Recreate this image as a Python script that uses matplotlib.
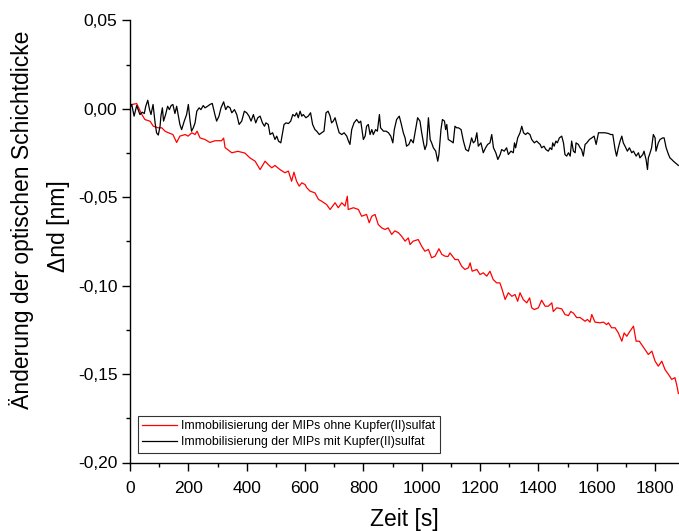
import matplotlib
matplotlib.use("Agg")
import matplotlib.pyplot as plt
from matplotlib.ticker import MultipleLocator, FuncFormatter

plt.rcParams['font.family'] = ['Liberation Sans', 'DejaVu Sans']

# Time axis [s] and layer thickness change [nm] for both immobilisation runs
t_ohne = [0, 6, 23, 40, 51, 69, 80, 97, 109, 120, 130, 147, 160, 171, 189, 199, 212, 223,
          230, 240, 257, 274, 291, 314, 321, 326, 349, 370, 394, 411, 429, 446, 463, 474,
          486, 497, 514, 531, 543, 554, 562, 571, 580, 589, 600, 606, 617, 634, 646, 657,
          674, 686, 703, 714, 726, 737, 745, 748, 766, 783, 794, 811, 820, 829, 840, 851,
          863, 874, 885, 897, 908, 920, 931, 943, 954, 960, 971, 988, 1000, 1011, 1023,
          1034, 1046, 1059, 1069, 1080, 1090, 1097, 1114, 1125, 1137, 1148, 1160, 1166,
          1173, 1189, 1200, 1211, 1223, 1234, 1245, 1257, 1268, 1274, 1286, 1297, 1309,
          1320, 1329, 1337, 1348, 1360, 1370, 1377, 1386, 1400, 1411, 1423, 1434, 1446,
          1451, 1463, 1480, 1491, 1503, 1511, 1520, 1531, 1543, 1560, 1568, 1577, 1583,
          1594, 1611, 1623, 1634, 1640, 1651, 1663, 1674, 1686, 1694, 1703, 1714, 1726,
          1735, 1746, 1754, 1765, 1777, 1789, 1800, 1811, 1823, 1834, 1846, 1857, 1868,
          1874, 1880]
d_ohne = [0.0015, 0.0025, 0.003, -0.003, -0.006, -0.007, -0.0098, -0.0107, -0.0107,
          -0.0126, -0.0134, -0.0145, -0.019, -0.0154, -0.0145, -0.0154, -0.0135, -0.0145,
          -0.0126, -0.0164, -0.0173, -0.019, -0.018, -0.018, -0.0165, -0.0219, -0.0248,
          -0.024, -0.025, -0.0277, -0.0296, -0.0343, -0.0296, -0.0315, -0.0333, -0.032,
          -0.0343, -0.0361, -0.0352, -0.0409, -0.0358, -0.0409, -0.0437, -0.0418, -0.0428,
          -0.0446, -0.0465, -0.0475, -0.0512, -0.0522, -0.0541, -0.0569, -0.0531, -0.0559,
          -0.0531, -0.055, -0.0494, -0.0569, -0.0559, -0.0569, -0.0607, -0.0597, -0.0644,
          -0.0607, -0.0597, -0.0654, -0.0673, -0.0682, -0.0673, -0.071, -0.069, -0.070,
          -0.072, -0.0748, -0.073, -0.0767, -0.0748, -0.0739, -0.0777, -0.0805, -0.0795,
          -0.0842, -0.0833, -0.0791, -0.0823, -0.0833, -0.0835, -0.0815, -0.0852, -0.0852,
          -0.089, -0.0908, -0.0899, -0.0871, -0.0918, -0.0908, -0.0937, -0.0927, -0.0946,
          -0.0918, -0.0965, -0.0984, -0.0984, -0.1012, -0.1078, -0.104, -0.106, -0.105,
          -0.1088, -0.104, -0.1078, -0.1097, -0.1069, -0.1125, -0.1135, -0.1125, -0.1082,
          -0.1116, -0.1116, -0.1097, -0.1146, -0.1125, -0.1131, -0.1163, -0.1169, -0.1146,
          -0.1155, -0.118, -0.118, -0.1201, -0.1191, -0.1206, -0.1163, -0.1206, -0.121,
          -0.1206, -0.122, -0.121, -0.1238, -0.1238, -0.1267, -0.1314, -0.1267, -0.1286,
          -0.1257, -0.1229, -0.1314, -0.1314, -0.1333, -0.136, -0.1389, -0.137, -0.1427,
          -0.1455, -0.1427, -0.1474, -0.1502, -0.153, -0.152, -0.156, -0.161]

t_mit = [0, 6, 14, 23, 34, 42, 49, 54, 61, 67, 72, 79, 86, 91, 97, 103, 106, 111, 115,
         122, 129, 135, 141, 147, 154, 160, 166, 171, 177, 186, 194, 200, 206, 211, 217,
         223, 229, 237, 243, 251, 257, 266, 274, 282, 291, 297, 305, 312, 321, 328, 335,
         343, 349, 358, 366, 374, 383, 392, 400, 408, 415, 423, 431, 438, 446, 454, 461,
         466, 474, 480, 489, 497, 503, 509, 517, 523, 528, 535, 543, 551, 558, 565, 571,
         577, 583, 589, 594, 603, 611, 619, 626, 634, 640, 649, 657, 665, 672, 679, 686,
         691, 697, 703, 709, 717, 726, 734, 743, 749, 754, 760, 768, 777, 785, 791, 800,
         806, 811, 817, 823, 829, 834, 842, 848, 855, 859, 869, 878, 886, 894, 901, 906,
         914, 923, 929, 937, 943, 948, 956, 963, 971, 979, 986, 994, 1000, 1006, 1011,
         1017, 1023, 1029, 1034, 1040, 1048, 1055, 1059, 1066, 1071, 1078, 1082, 1086,
         1091, 1100, 1108, 1114, 1120, 1126, 1135, 1143, 1151, 1160, 1166, 1171, 1177,
         1183, 1189, 1194, 1203, 1211, 1219, 1226, 1234, 1240, 1246, 1254, 1261, 1269,
         1274, 1283, 1291, 1297, 1306, 1314, 1318, 1322, 1329, 1337, 1343, 1349, 1356,
         1363, 1371, 1377, 1386, 1394, 1400, 1406, 1411, 1419, 1426, 1434, 1440, 1446,
         1449, 1454, 1460, 1465, 1472, 1480, 1486, 1491, 1497, 1503, 1509, 1514, 1520,
         1526, 1529, 1537, 1543, 1548, 1554, 1560, 1566, 1575, 1583, 1591, 1598, 1606,
         1617, 1628, 1640, 1648, 1655, 1663, 1668, 1674, 1680, 1686, 1691, 1697, 1705,
         1712, 1720, 1726, 1735, 1743, 1748, 1758, 1762, 1769, 1774, 1777, 1783, 1788,
         1794, 1800, 1803, 1811, 1817, 1826, 1831, 1838, 1846, 1851, 1857, 1863, 1872,
         1880]
d_mit = [0.0006, 0.0025, -0.0041, 0.0019, -0.0032, -0.0019, -0.0026, 0.0015, 0.0049,
         -0.0004, -0.0032, 0.0025, -0.0079, -0.0135, -0.0148, -0.0098, -0.0041, 0.0006,
         -0.0069, -0.0032, 0.0015, -0.0004, 0.0019, 0.0025, -0.0026, 0.0015, -0.0041,
         -0.0088, -0.0117, -0.0069, -0.0032, 0.0025, -0.0069, -0.0126, -0.0107, -0.0079,
         -0.0013, 0.0006, -0.0004, 0.0019, 0.0006, 0.0015, 0.0025, 0.0031, -0.0032,
         -0.0069, -0.0041, 0.0006, 0.0040, -0.0004, 0.0015, 0.0006, -0.0022, -0.0004,
         -0.0032, -0.0088, -0.0069, -0.0013, -0.0022, -0.0041, -0.0069, -0.0032, -0.0079,
         -0.0050, -0.0041, -0.0079, -0.0098,
         -0.0079, -0.0088, -0.0145, -0.0135, -0.0173, -0.0154, -0.0182, -0.0192, -0.0135,
         -0.0088, -0.0079, -0.0083, -0.0069, -0.0032, -0.0041, -0.0022, -0.0050, -0.0013,
         -0.0041, -0.0032, -0.0050, -0.0041, -0.0022, -0.0088, -0.0117, -0.0126, -0.0145,
         -0.0135, -0.0126, -0.0022, -0.0013, -0.0041, -0.0079, -0.0069, -0.0050, -0.0088,
         -0.0135, -0.0145, -0.0135, -0.0154, -0.0182, -0.0201, -0.0117, -0.0079, -0.0060,
         -0.0079, -0.0069, -0.0173, -0.0154, -0.0098, -0.0088, -0.0145, -0.0117, -0.0145,
         -0.0117, -0.0126, -0.0032, -0.0107, -0.0126, -0.0126, -0.0135, -0.0154, -0.0192,
         -0.0117, -0.0060, -0.0041,
         -0.0079, -0.0135, -0.0164, -0.0211, -0.0201, -0.0173, -0.0192, -0.0117, -0.0050,
         -0.0069, -0.0135, -0.0192, -0.0230, -0.0201, -0.0050, -0.0173, -0.0192, -0.0220,
         -0.0239, -0.0296, -0.0258, -0.0117, -0.0060, -0.0069, -0.0117, -0.0088, -0.0173,
         -0.0182, -0.0192, -0.0098, -0.0107, -0.0107, -0.0117, -0.0182, -0.0230, -0.0239,
         -0.0201, -0.0164, -0.0192, -0.0182, -0.0135, -0.0211, -0.0192, -0.0248, -0.0220,
         -0.0201, -0.0192, -0.0145, -0.0220, -0.0248, -0.0286, -0.0258, -0.0230, -0.0239,
         -0.0220, -0.0258, -0.0239, -0.0248, -0.0192, -0.0220, -0.0164, -0.0135, -0.0098,
         -0.0135, -0.0145, -0.0135, -0.0145, -0.0173, -0.0192,
         -0.0182, -0.0192, -0.0201, -0.0220, -0.0211, -0.0230, -0.0239, -0.0220, -0.0230,
         -0.0192, -0.0211, -0.0182, -0.0192, -0.0164, -0.0154, -0.0192, -0.0258, -0.0267,
         -0.0248, -0.0267, -0.0182, -0.0239, -0.0248, -0.0192, -0.0201, -0.0220, -0.0230,
         -0.0267, -0.0201, -0.0192, -0.0173, -0.0164, -0.0154, -0.0201, -0.0135, -0.0135,
         -0.0135, -0.0139, -0.0145, -0.0145, -0.0230, -0.0267, -0.0220, -0.0182, -0.0154,
         -0.0192, -0.0211, -0.0239, -0.0220, -0.0248, -0.0239, -0.0267, -0.0248, -0.0277,
         -0.0258, -0.0239, -0.0286, -0.0343, -0.0277, -0.0248, -0.0220, -0.0145, -0.0164,
         -0.0239, -0.0192, -0.0173, -0.0164, -0.0164, -0.0220, -0.0258, -0.0277, -0.0286,
         -0.0296, -0.0309, -0.0320]

label_ohne = "Immobilisierung der MIPs ohne Kupfer(II)sulfat"
label_mit = "Immobilisierung der MIPs mit Kupfer(II)sulfat"

W, H = 679, 531
fig = plt.figure(figsize=(W / 100, H / 100), dpi=100)
ax = fig.add_axes([130 / W, 1 - 462.5 / H, 549 / W, (462.5 - 20.5) / H])

ax.plot(t_ohne, d_ohne, color='#ff0000', lw=0.9, label=label_ohne)
ax.plot(t_mit, d_mit, color='black', lw=0.9, label=label_mit)

ax.set_xlim(0, 1882)
ax.set_ylim(-0.20, 0.05)

ax.xaxis.set_major_locator(MultipleLocator(200))
ax.xaxis.set_minor_locator(MultipleLocator(100))
ax.yaxis.set_major_locator(MultipleLocator(0.05))
ax.yaxis.set_minor_locator(MultipleLocator(0.025))
ax.xaxis.set_major_formatter(FuncFormatter(lambda v, p: f"{v:.0f}"))
ax.yaxis.set_major_formatter(FuncFormatter(lambda v, p: f"{v:.2f}".replace('.', ',')))

for s in ('top', 'right'):
    ax.spines[s].set_visible(False)
for s in ('left', 'bottom'):
    ax.spines[s].set_linewidth(1.0)

ax.tick_params(which='major', direction='out', length=6, width=1.0, labelsize=12.5)
ax.tick_params(which='minor', direction='out', length=3, width=1.0)
ax.tick_params(axis='x', which='major', pad=7)
ax.tick_params(axis='y', which='major', pad=3)

ax.set_xlabel("Zeit [s]", fontsize=16.5, labelpad=9)
fig.text(22 / W, 1 - 220 / H, "Änderung der optischen Schichtdicke", rotation=90,
         ha='center', va='center', fontsize=16.5)
fig.text(58 / W, 1 - 226 / H, "Δnd [nm]", rotation=90,
         ha='center', va='center', fontsize=16.5)

leg = ax.legend(loc='lower left', bbox_to_anchor=(8 / 549, 10 / 442), borderaxespad=0,
                fontsize=8.8, frameon=True, fancybox=False, handlelength=2.8,
                handletextpad=0.4, labelspacing=0.35, borderpad=0.35)
leg.get_frame().set_edgecolor('black')
leg.get_frame().set_linewidth(0.8)

fig.savefig("out.png", dpi=100)
